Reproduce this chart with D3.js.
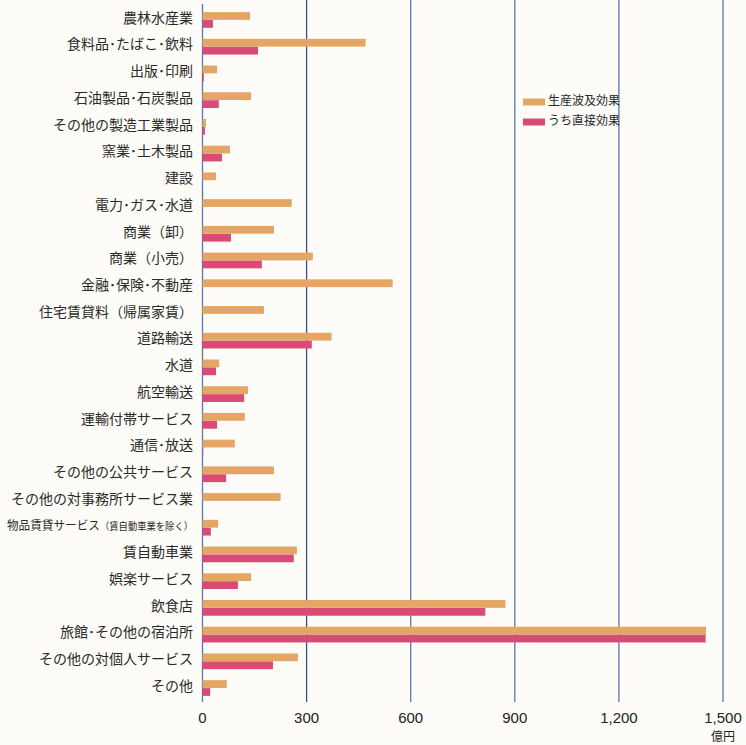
<!DOCTYPE html>
<html><head><meta charset="utf-8">
<script src="https://cdn.jsdelivr.net/npm/d3@7"></script>
<style>body{margin:0;background:#fdfcf8;}svg{display:block;}</style>
</head><body>
<svg id="c" width="746" height="745"></svg>
<script>
const categories = ["農林水産業","食料品･たばこ･飲料","出版･印刷","石油製品･石炭製品","その他の製造工業製品","窯業･土木製品","建設","電力･ガス･水道","商業（卸）","商業（小売）","金融･保険･不動産","住宅賃貸料（帰属家賃）","道路輸送","水道","航空輸送","運輸付帯サービス","通信･放送","その他の公共サービス","その他の対事務所サービス業","物品賃貸サービス（賃自動車業を除く）","賃自動車業","娯楽サービス","飲食店","旅館･その他の宿泊所","その他の対個人サービス","その他"];
const seriesNames = ["生産波及効果","うち直接効果"];
const totalEffect = [137,470,42,140,10,79,39,257,206,318,548,177,372,48,131,122,93,206,225,45,272,140,873,1451,275,70];
const directEffect = [30,160,4,47,7,56,0,0,82,171,0,0,315,39,120,42,2,68,0,24,263,102,815,1450,203,22];
const xTicks = [0,300,600,900,1200,1500];
const unitLabel = "億円";
const colors = ["#e4a565","#da4a75"];

const svg = d3.select("#c");
const x = d3.scaleLinear().domain([0,1500]).range([202.5,723]);
const y = d3.scaleBand().domain(categories).range([6.6,701.4]).paddingInner(0.4).paddingOuter(0.2);
const sub = d3.scaleBand().domain(seriesNames).range([0,y.bandwidth()]).padding(0.02);

// gridlines
svg.append("g").selectAll("line").data(xTicks).join("line")
  .attr("x1",d=>x(d)).attr("x2",d=>x(d))
  .attr("y1",d=>d===0?4:0).attr("y2",702)
  .attr("stroke",(d,i)=>i===1?"#3d4f80":"#5577b0").attr("stroke-width",1.3);

// bars
const data = categories.map((c,i)=>({c, vals:[totalEffect[i],directEffect[i]]}));
const g = svg.append("g").selectAll("g").data(data).join("g")
  .attr("transform",d=>`translate(0,${y(d.c)})`);
g.selectAll("rect").data(d=>d.vals.map((v,k)=>({v,k}))).join("rect")
  .attr("x",x(0)).attr("y",d=>sub(seriesNames[d.k]))
  .attr("width",d=>Math.max(0,x(d.v)-x(0))).attr("height",sub.bandwidth())
  .attr("fill",d=>colors[d.k]);

// category labels
const lab = svg.append("g").selectAll("text").data(categories).join("text")
  .attr("x",193).attr("y",c=>y(c)+y.bandwidth()/2-1)
  .attr("text-anchor","end").attr("dominant-baseline","middle")
  .attr("font-family","'Noto Sans CJK JP'").attr("font-size",14).attr("fill","#2a2a2a");
lab.each(function(c){
  const t=d3.select(this);
  const m=c.match(/^(.*?)（(.*)）$/);
  if(m && c.startsWith("物品")){
    t.append("tspan").attr("font-size",12.5).text(m[1]);
    t.append("tspan").attr("font-size",10).text("（"+m[2]+"）");
    t.attr("textLength",186).attr("lengthAdjust","spacingAndGlyphs");
  } else t.text(c);
});

// tick labels
svg.append("g").selectAll("text").data(xTicks).join("text")
  .attr("x",d=>x(d)).attr("y",719).attr("text-anchor","middle").attr("dominant-baseline","middle")
  .attr("font-family","'Liberation Sans',Arial").attr("font-size",15).attr("fill","#222")
  .text(d3.format(","));
svg.append("text").attr("x",x(1500)).attr("y",738).attr("text-anchor","middle").attr("dominant-baseline","middle")
  .attr("font-family","'Noto Sans CJK JP'").attr("font-size",12).attr("fill","#222").text(unitLabel);

// legend
const lg = svg.append("g").selectAll("g").data(seriesNames).join("g")
  .attr("transform",(d,i)=>`translate(523,${102+i*20})`);
lg.append("rect").attr("x",0).attr("y",-3.5).attr("width",22).attr("height",7).attr("fill",(d,i)=>colors[i]);
lg.append("text").attr("x",25).attr("y",0).attr("dominant-baseline","middle")
  .attr("font-family","'Noto Sans CJK JP'").attr("font-size",12).attr("fill","#2a2a2a").text(d=>d);
</script>
</body></html>
